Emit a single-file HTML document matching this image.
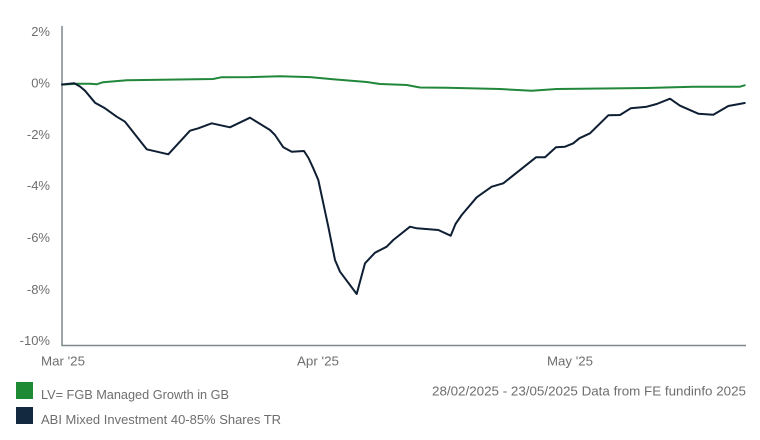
<!DOCTYPE html>
<html>
<head>
<meta charset="utf-8">
<style>
  html,body{margin:0;padding:0;background:#fff;}
  svg{display:block;}
  text{font-family:"Liberation Sans",sans-serif;fill:#6e6e6e;}
</style>
</head>
<body>
<svg width="760" height="440" viewBox="0 0 760 440" xmlns="http://www.w3.org/2000/svg">
  <!-- axes -->
  <line x1="62" y1="26" x2="62" y2="345.5" stroke="#7d878c" stroke-width="1.5"/>
  <line x1="61.3" y1="345.5" x2="746" y2="345.5" stroke="#7d878c" stroke-width="1.5"/>

  <!-- y labels -->
  <g font-size="13" text-anchor="end">
    <text x="50" y="36">2%</text>
    <text x="50" y="87.5">0%</text>
    <text x="50" y="138.8">-2%</text>
    <text x="50" y="190">-4%</text>
    <text x="50" y="242">-6%</text>
    <text x="50" y="294">-8%</text>
    <text x="50" y="345">-10%</text>
  </g>

  <!-- x labels -->
  <g font-size="13">
    <text x="41" y="365.5" textLength="44" lengthAdjust="spacingAndGlyphs">Mar '25</text>
    <text x="297" y="365.5" textLength="42" lengthAdjust="spacingAndGlyphs">Apr '25</text>
    <text x="547" y="365.5" textLength="46" lengthAdjust="spacingAndGlyphs">May '25</text>
  </g>

  <!-- green series -->
  <polyline fill="none" stroke="#21873a" stroke-width="2" stroke-linejoin="round" stroke-linecap="round"
    points="62,84.6 76.7,83.7 90,83.7 96.7,84.3 103,82.2 126.7,80.3 213,79 221.7,77.2 250,77.1 280,76.2 310,77.1 333,79.2 366.7,82 380,84 406.7,85 420,87.5 446.7,87.7 500,89 531.7,90.8 556.7,89 646.7,88 693.3,86.7 740,86.7 744.7,85.3"/>

  <!-- dark series -->
  <polyline fill="none" stroke="#0f1f33" stroke-width="2" stroke-linejoin="round" stroke-linecap="round"
    points="62,84.5 74.3,83.3 80,86.5 85,90.7 95,102.7 105,108.3 116.7,116.7 125,121.7 146.7,149.3 168.3,154.3 190,130.7 198.3,128.3 211.7,123.3 230,127.3 250,117.7 270,130 275,135 283.3,147.3 291.7,151.7 304,151 308.5,158 313.3,168.3 318.3,180 323.3,203.3 328.3,226.7 335,260 340,271.7 356.7,294 361,278 365,263.3 375,252.7 386.7,246.7 393.3,240 410,226.7 416.7,228.3 438.3,230 450.7,235.7 455.5,224 461.7,215 476.7,197.3 491.7,186.7 503.3,183.3 536,157.3 545,157.3 556,147.3 565,146.7 573.3,143.3 579.3,138.3 590,133.3 608.3,115.3 620,115 630.7,108.3 646.7,106.7 656.7,104 670,98.7 680,105.7 698.3,113.7 713.3,114.7 728.3,106 744.7,103"/>

  <!-- legend -->
  <rect x="16" y="382" width="17" height="17" fill="#1e8a34"/>
  <rect x="16" y="407" width="17" height="17" fill="#13293f"/>
  <g font-size="13">
    <text x="41" y="399" textLength="188" lengthAdjust="spacingAndGlyphs">LV= FGB Managed Growth in GB</text>
    <text x="41" y="424" textLength="240" lengthAdjust="spacingAndGlyphs">ABI Mixed Investment 40-85% Shares TR</text>
    <text x="432" y="395.5" textLength="314" lengthAdjust="spacingAndGlyphs">28/02/2025 - 23/05/2025 Data from FE fundinfo 2025</text>
  </g>
</svg>
</body>
</html>
